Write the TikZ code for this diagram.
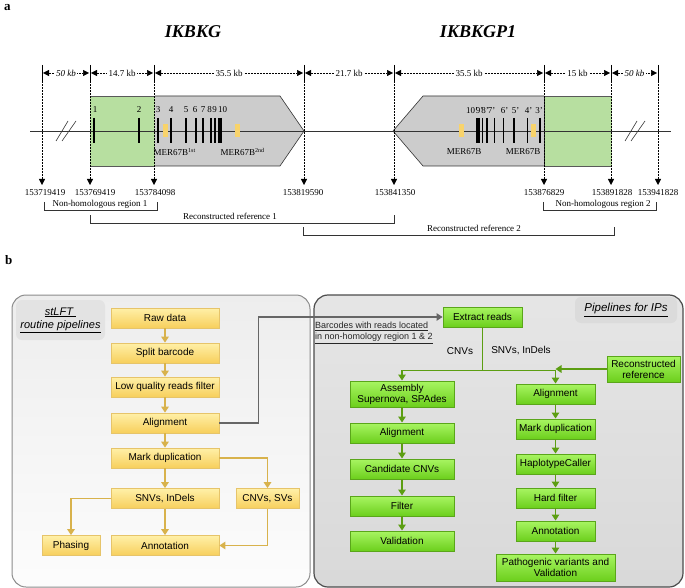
\documentclass[tikz,border=0pt]{standalone}
\usepackage{fontspec}
\setmainfont{Liberation Serif}
\setsansfont{Liberation Sans}
\usetikzlibrary{arrows.meta}
\definecolor{gregion}{HTML}{B7DFA0}
\definecolor{ggene}{HTML}{CCCCCC}
\definecolor{mer}{HTML}{F8D36B}
\definecolor{yline}{HTML}{D8B24C}
\definecolor{ybord}{HTML}{E6C46A}
\definecolor{ytop}{HTML}{FFF0A8}
\definecolor{ybot}{HTML}{F7CF5C}
\definecolor{gline}{HTML}{5C9E12}
\definecolor{gbord}{HTML}{5AA61A}
\definecolor{gtop}{HTML}{A8F562}
\definecolor{gbot}{HTML}{6CCF1C}
\definecolor{darkl}{HTML}{333333}
\begin{document}
\begin{tikzpicture}[x=1pt,y=-1pt,
  num/.style={font=\fontsize{9}{10}\selectfont, inner sep=0.5pt},
  dimlab/.style={font=\fontsize{9}{10}\selectfont, fill=white, inner sep=1.5pt},
  dimline/.style={densely dotted, line width=0.5pt, {Triangle[width=6pt,length=6pt]}-{Triangle[width=6pt,length=6pt]}},
  vdot/.style={densely dotted, line width=0.5pt, -{Triangle[width=6pt,length=6pt]}},
  exon/.style={line width=1.8pt},
  merbox/.style={fill=mer},
  brk/.style={draw=darkl, line width=0.6pt},
  ybox/.style={draw=ybord, line width=0.8pt, top color=ytop, bottom color=ybot, font=\sffamily\fontsize{10}{12}\selectfont, minimum height=20pt, inner sep=1pt, align=center},
  gbox/.style={draw=gbord, line width=0.9pt, top color=gtop, bottom color=gbot, font=\sffamily\fontsize{10}{12}\selectfont, minimum height=20pt, inner sep=1pt, align=center},
  yarr/.style={draw=yline, line width=1.4pt, -{Triangle[width=7.5pt,length=6pt]}},
  garr/.style={draw=gline, line width=1.4pt, -{Triangle[width=7.5pt,length=6pt]}},
  gln/.style={draw=gline, line width=1.4pt},
  grarr/.style={draw=black!60, line width=1.2pt, -{Triangle[width=7.5pt,length=6pt]}},
  plabel/.style={font=\bfseries\fontsize{13}{14}\selectfont, anchor=north west, inner sep=0pt}
]
\useasboundingbox (0,0) rectangle (685,588);

% ---------------- panel a ----------------
\node[plabel] (la) at (4,4) {a};
\node[font=\bfseries\itshape\fontsize{18}{20}\selectfont] (g1) at (193,32) {IKBKG};
\node[font=\bfseries\itshape\fontsize{18}{20}\selectfont] (g2) at (478,32) {IKBKGP1};

% gene shapes
\fill[gregion] (90,96) rectangle (155,166);
\draw[black!65, line width=0.6pt] (90,96) -- (155,96) (90,166) -- (155,166);
\fill[ggene] (155,96) -- (280,96) -- (304,131) -- (280,166) -- (155,166) -- cycle;
\draw[darkl, line width=0.6pt] (155,96) -- (280,96) -- (304,131) -- (280,166) -- (155,166);

\fill[ggene] (544,96) -- (423,96) -- (393,131) -- (423,166) -- (544,166) -- cycle;
\draw[darkl, line width=0.6pt] (544,96) -- (423,96) -- (393,131) -- (423,166) -- (544,166);
\fill[gregion] (544,96) rectangle (612,166);
\draw[black!65, line width=0.6pt] (544,96) -- (612,96) (544,166) -- (612,166);
\draw[darkl, line width=0.6pt] (544,96) -- (544,166);

% main line
\draw[darkl, line width=0.7pt] (30,131) -- (671,131);
% break marks
\draw[darkl, line width=0.6pt] (56,141) -- (68,121) (62,141) -- (76,121);
\draw[darkl, line width=0.6pt] (625,141) -- (637,121) (631,141) -- (645,121);

% exons IKBKG
\foreach \x in {94,139,158,171,186,196,203,211,215}
  \draw[exon] (\x,118) -- (\x,143);
\draw[line width=3.2pt] (220,118) -- (220,143);
\foreach \x/\t in {95/1,139/2,158/3,171/4,186/5,195/6,203/7,209.5/8,214.5/9,222.5/10}
  \node[num] at (\x,110) {\t};
\fill[merbox] (163,124) rectangle (168,137);
\fill[merbox] (235,124) rectangle (240,137);
\node[num, anchor=west] at (153,152) {MER67B\textsuperscript{1st}};
\node[num, anchor=west] at (220,152) {MER67B\textsuperscript{2nd}};

% exons IKBKGP1
\draw[line width=3.2pt] (478,118) -- (478,143);
\foreach \x in {482.5,487,494.5,503.5,514,527.5,540}
  \draw[exon] (\x,118) -- (\x,143);
\foreach \x/\t in {472/10',479.5/9',485/8',491.5/7',504.5/6',515.5/5',528.5/4',539/3'}
  \node[num] at (\x,111) {\t};
\fill[merbox] (459,124) rectangle (464,137);
\fill[merbox] (531,124) rectangle (536,137);
\node[num] at (464,152) {MER67B};
\node[num] at (523,152) {MER67B};

% vertical dotted lines
\foreach \x in {42,90,154,304,394,544,611,658} {
  \draw[line width=0.6pt] (\x,65) -- (\x,81);
  \draw[vdot] (\x,81) -- (\x,185);
}
% dimensions
\draw[dimline] (43,73) -- (89,73) node[dimlab, midway] {\itshape 50 kb};
\draw[dimline] (91,73) -- (153,73) node[dimlab, midway] {14.7 kb};
\draw[dimline] (155,73) -- (303,73) node[dimlab, midway] {35.5 kb};
\draw[dimline] (305,73) -- (393,73) node[dimlab, midway] {21.7 kb};
\draw[dimline] (395,73) -- (543,73) node[dimlab, midway] {35.5 kb};
\draw[dimline] (545,73) -- (610,73) node[dimlab, midway] {15 kb};
\draw[dimline] (612,73) -- (657,73) node[dimlab, midway] {\itshape 50 kb};

% coordinates
\node[num] at (45,193) {153719419};
\node[num] at (95,193) {153769419};
\node[num] at (155,193) {153784098};
\node[num] at (303,193) {153819590};
\node[num] at (395,193) {153841350};
\node[num] at (544,193) {153876829};
\node[num] at (612,193) {153891828};
\node[num] at (658,193) {153941828};

% brackets
\draw[brk] (44,202) |- (157,210) -- (157,202);
\node[num] at (100,204) {Non-homologous region 1};
\draw[brk] (90,215) |- (394,223) -- (394,215);
\node[num] at (230,216.5) {Reconstructed reference 1};
\draw[brk] (303,227) |- (614,235) -- (614,227);
\node[num] at (474,228.5) {Reconstructed reference 2};
\draw[brk] (543,202) |- (656,210) -- (656,202);
\node[num] at (603,204) {Non-homologous region 2};

% ---------------- panel b ----------------
\node[plabel] (lb) at (5,255) {b};
\shade[top color=black!7, bottom color=black!1, draw=black!45, line width=1pt, rounded corners=14pt] (12,295) rectangle (310,587);
\shade[top color=black!10, bottom color=black!15, draw=black!70, line width=1.2pt, rounded corners=14pt] (314,295) rectangle (683,587);

\node[fill=black!11, rounded corners=6pt, minimum width=89pt, minimum height=40pt, align=center, inner sep=1pt, font=\sffamily\itshape\fontsize{11}{13}\selectfont] (t1) at (60.5,320) {\underline{stLFT }\\\underline{routine pipelines}};
\node[fill=black!14, rounded corners=6pt, minimum width=102pt, minimum height=26pt, inner sep=1pt, font=\sffamily\itshape\fontsize{11.5}{13}\selectfont] (t2) at (626,310) {\underline{Pipelines for IPs}};

% yellow pipeline
\node[ybox, minimum width=108pt] (raw) at (165,318) {Raw data};
\node[ybox, minimum width=108pt] (split) at (165,353) {Split barcode};
\node[ybox, minimum width=108pt] (lowq) at (165,387) {Low quality reads filter};
\node[ybox, minimum width=108pt] (alnA) at (165,423) {Alignment};
\node[ybox, minimum width=108pt] (markA) at (165,458) {Mark duplication};
\node[ybox, minimum width=108pt] (snv) at (165,498.5) {SNVs, InDels};
\node[ybox, minimum width=63pt] (cnv) at (267.5,498.5) {CNVs, SVs};
\node[ybox, minimum width=58pt] (phase) at (71,545.5) {Phasing};
\node[ybox, minimum width=108pt] (annA) at (165,545.5) {Annotation};

\draw[yarr] (raw) -- (split);
\draw[yarr] (split) -- (lowq);
\draw[yarr] (lowq) -- (alnA);
\draw[yarr] (alnA) -- (markA);
\draw[yarr] (markA) -- (snv);
\draw[yarr] (markA.east) -| (cnv.north);
\draw[yarr] (snv.west) -| (phase.north);
\draw[yarr] (snv) -- (annA);
\draw[yarr] (cnv.south) |- (annA.east);

% green pipeline
\node[gbox, minimum width=79pt] (ext) at (482.5,317) {Extract reads};
\node[gbox, minimum width=104pt, minimum height=26pt] (asm) at (402,394) {Assembly\\[-1pt]Supernova, SPAdes};
\node[gbox, minimum width=104pt] (alnL) at (402,433) {Alignment};
\node[gbox, minimum width=104pt] (cand) at (402,469) {Candidate CNVs};
\node[gbox, minimum width=104pt] (filt) at (402,506) {Filter};
\node[gbox, minimum width=104pt] (valid) at (402,541) {Validation};
\node[gbox, minimum width=79pt] (alnR) at (555.5,394) {Alignment};
\node[gbox, minimum width=79pt] (markR) at (555.5,429) {Mark duplication};
\node[gbox, minimum width=79pt] (hap) at (555.5,464) {HaplotypeCaller};
\node[gbox, minimum width=79pt] (hard) at (555.5,498) {Hard filter};
\node[gbox, minimum width=79pt] (annR) at (555.5,531) {Annotation};
\node[gbox, minimum width=119pt, minimum height=27pt] (path) at (555.5,567.5) {Pathogenic variants and\\[-1pt]Validation};
\node[gbox, minimum width=73pt, minimum height=26pt] (ref) at (643.5,369) {Reconstructed\\[-1pt]reference};

\draw[grarr] (alnA.east) -- ++(39,0) |- (ext.west);
\node[anchor=west, align=left, inner sep=0pt, text=black!85, font=\sffamily\fontsize{9}{11}\selectfont] (bc) at (315,333) {\underline{Barcodes with reads located}\\\underline{in non-homology region 1 \& 2}};

\draw[gln] (ext.south) -- ++(0,43) coordinate (fork);
\draw[garr] (fork) -| (asm.north);
\draw[garr] (fork) -| (alnR.north);
\draw[garr] (ref.west) -- (ref.west -| alnR.north);
\node[font=\sffamily\fontsize{10}{12}\selectfont] (lc) at (460,351) {CNVs};
\node[font=\sffamily\fontsize{10}{12}\selectfont] (ls) at (521,351) {SNVs, InDels};

\draw[garr] (asm) -- (alnL);
\draw[garr] (alnL) -- (cand);
\draw[garr] (cand) -- (filt);
\draw[garr] (filt) -- (valid);
\draw[garr] (alnR) -- (markR);
\draw[garr] (markR) -- (hap);
\draw[garr] (hap) -- (hard);
\draw[garr] (hard) -- (annR);
\draw[garr] (annR) -- (path);
\end{tikzpicture}
\end{document}
